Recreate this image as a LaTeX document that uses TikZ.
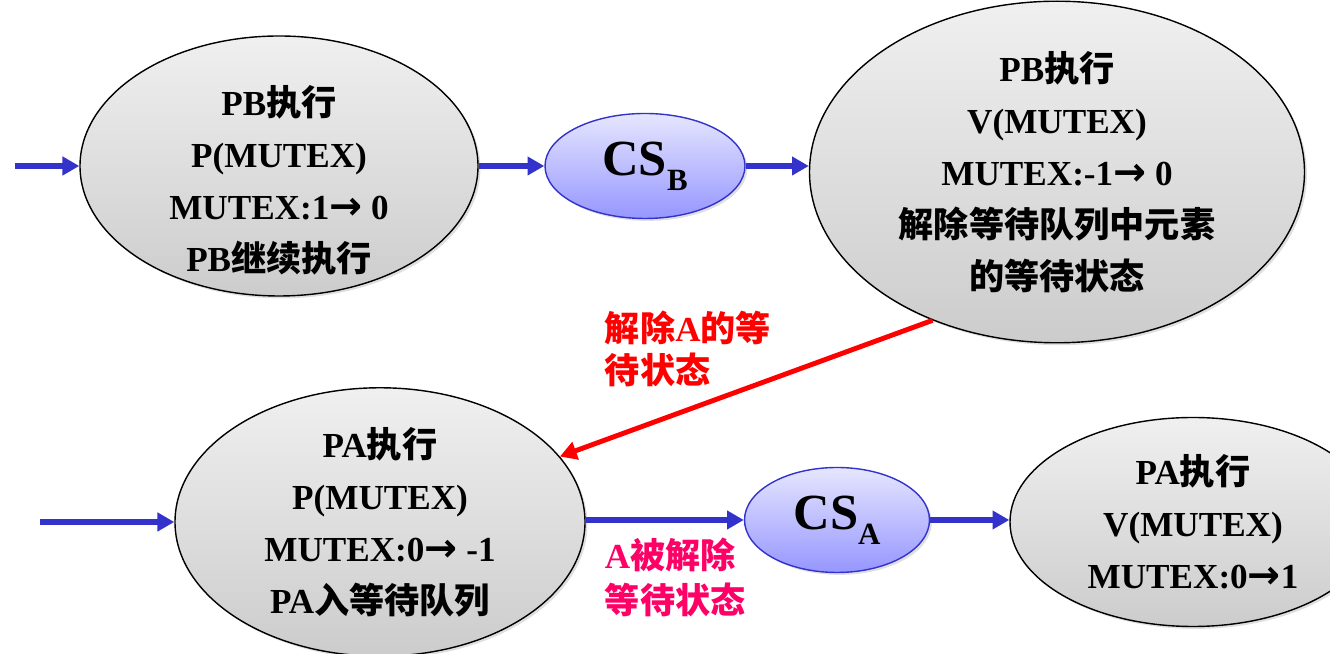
\documentclass[tikz,border=0pt]{standalone}
\usepackage{fontspec}
\setmainfont{Liberation Serif}
\newfontfamily\cjk{Noto Sans CJK SC}
\newfontfamily\sym{DejaVu Sans}
\usetikzlibrary{arrows.meta,shapes.geometric,shadows}

\definecolor{flowblue}{RGB}{51,51,204}
\definecolor{pinkred}{RGB}{255,0,102}
\definecolor{lavtop}{RGB}{230,230,255}
\definecolor{lavbot}{RGB}{150,150,255}

\newcommand{\zh}[1]{{\cjk #1}}
\newcommand{\zarrow}{{\sym\fontsize{28}{28}\selectfont →}}
\newcommand{\csub}[1]{\raisebox{-0.3em}{\fontsize{22}{22}\selectfont #1}}

\begin{document}
\begin{tikzpicture}[scale=1,
  every node/.style={font=\bfseries\fontsize{25}{37}\selectfont},
  state/.style={ellipse, draw=black, line width=1pt, top color=gray!12,
    bottom color=gray!40, align=center, inner sep=0pt,
    drop shadow={opacity=0.25, shadow xshift=0.06cm, shadow yshift=-0.06cm}},
  csbox/.style={ellipse, draw=flowblue, line width=1pt, top color=lavtop,
    bottom color=lavbot, inner sep=0pt,
    font=\bfseries\fontsize{36}{36}\selectfont,
    drop shadow={opacity=0.25, shadow xshift=0.06cm, shadow yshift=-0.06cm}},
  flow/.style={-{Triangle[length=0.42cm,width=0.45cm]}, line width=4pt, flowblue},
  wake/.style={-{Triangle[length=0.42cm,width=0.45cm]}, line width=3.5pt, red}
]

\useasboundingbox (0,0) rectangle (33.25,16.35);

% PB side
\node[state, minimum width=9.95cm, minimum height=6.5cm] (pb1) at (6.975,12.2) {};
\node[align=center] (pb1txt) at (6.975,11.85)
  {PB\zh{执行}\\P(MUTEX)\\MUTEX:1\zarrow{} 0\\PB\zh{继续执行}};

\node[csbox, minimum width=5cm, minimum height=2.625cm] (csb) at (16.125,12.2)
  {CS\csub{B}};

\node[state, minimum width=12.375cm, minimum height=7.5cm] (pb2) at (26.425,12.05)
  {PB\zh{执行}\\V(MUTEX)\\MUTEX:-1\zarrow{} 0\\\zh{解除等待队列中元素}\\\zh{的等待状态}};

% PA side
\node[state, minimum width=10.25cm, minimum height=5.875cm] (pa1) at (9.5,3.3)
  {PA\zh{执行}\\P(MUTEX)\\MUTEX:0\zarrow{} -1\\PA\zh{入等待队列}};

\node[csbox, minimum width=4.625cm, minimum height=2.625cm] (csa) at (20.925,3.35)
  {CS\csub{A}};

\node[state, minimum width=9.15cm, minimum height=5.225cm] (pa2) at (29.825,3.3)
  {PA\zh{执行}\\V(MUTEX)\\MUTEX:0\zarrow{}1};

% Entry points
\coordinate (inb) at (0.375,12.2);
\coordinate (ina) at (1.0,3.3);

% Flow arrows
\draw[flow] (inb) -- (pb1.west);
\draw[flow] (pb1.east) -- (csb.west);
\draw[flow] (csb.east) -- (csb.east -| pb2.west);
\draw[flow] (ina) -- (pa1.west);
\draw[flow] (pa1.east |- csa.west) -- (csa.west);
\draw[flow] (csa.east) -- (csa.east -| pa2.west);

% Wake up A
\draw[wake] (pb2.230) -- (pa1.20);

% Notes
\node[red, anchor=west, align=left, font=\bfseries\fontsize{25}{30}\selectfont]
  (wakenote) at (15.0,7.625) {\zh{解除}A\zh{的等}\\\zh{待状态}};
\node[pinkred, anchor=west, align=left, font=\bfseries\fontsize{25}{32}\selectfont]
  (freenote) at (15.0,1.925) {A\zh{被解除}\\\zh{等待状态}};

\end{tikzpicture}
\end{document}
